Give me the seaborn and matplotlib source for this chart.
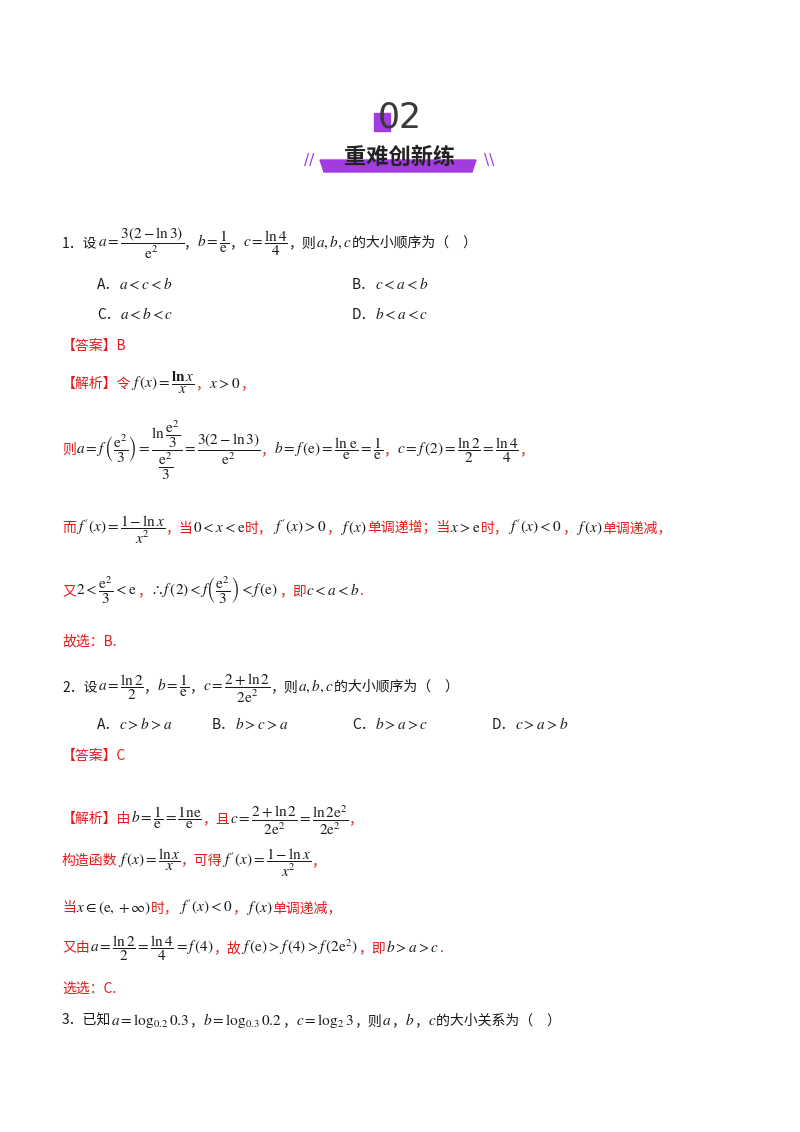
import matplotlib
matplotlib.use("Agg")
import matplotlib.pyplot as plt
import seaborn as sns
from matplotlib.patches import Rectangle, Polygon

sns.set_theme(style="white")
plt.rcParams['font.family'] = ['Noto Sans CJK SC', 'DejaVu Sans']
plt.rcParams['mathtext.fontset'] = 'stix'

R = '#e41a1a'
K = '#1a1a1a'
M = lambda s: '$' + s.replace(r"\frac{", r"\dfrac{") + '$'

# Each line: (x, y, [(text, colour), ...])
lines = [
    (62, 242, [("1．设", K), (M(r"a=\frac{3(2-\ln 3)}{\mathrm{e}^2}"), K), ("，", K), (M(r"b=\frac{1}{\mathrm{e}}"), K), ("，", K),
               (M(r"c=\frac{\ln 4}{4}"), K), ("，则", K), (M(r"a,b,c"), K), ("的大小顺序为（　）", K)]),
    (97, 284, [("A．", K), (M(r"a<c<b"), K)]),
    (352, 284, [("B．", K), (M(r"c<a<b"), K)]),
    (97, 314, [("C．", K), (M(r"a<b<c"), K)]),
    (352, 314, [("D．", K), (M(r"b<a<c"), K)]),
    (62, 345, [("【答案】B", R)]),
    (62, 383, [("【解析】令", R), (M(r"f\,(x)=\frac{\mathbf{ln}\,x}{x}"), K), ("，", R), (M(r"x>0"), K), ("，", R)]),
    (62, 449, [("则", R), (M(r"a=f\,\left(\frac{\mathrm{e}^2}{3}\right)=\frac{\ln\frac{\mathrm{e}^2}{3}}{\frac{\mathrm{e}^2}{3}}=\frac{3(2-\ln 3)}{\mathrm{e}^2}"), K), ("，", R),
               (M(r"b=f\,(\mathrm{e})=\frac{\ln\,\mathrm{e}}{\mathrm{e}}=\frac{1}{\mathrm{e}}"), K), ("，", R),
               (M(r"c=f\,(2)=\frac{\ln 2}{2}=\frac{\ln 4}{4}"), K), ("，", R)]),
    (62, 527, [("而", R), (M(r"f\,'(x)=\frac{1-\ln x}{x^2}"), K), ("，当", R), (M(r"0<x<\mathrm{e}"), K), ("时，", R),
               (M(r"f\,'(x)>0"), K), ("，", R), (M(r"f\,(x)"), K), ("单调递增；当", R), (M(r"x>\mathrm{e}"), K), ("时，", R),
               (M(r"f\,'(x)<0"), K), ("，", R), (M(r"f\,(x)"), K), ("单调递减，", R)]),
    (62, 590, [("又", R), (M(r"2<\frac{\mathrm{e}^2}{3}<\mathrm{e}"), K), ("，", R), (M(r"\therefore f\,(2)<f\left(\frac{\mathrm{e}^2}{3}\right)<f\,(\mathrm{e})"), K),
               ("，即", R), (M(r"c<a<b"), K), (".", R)]),
    (62, 640, [("故选：B.", R)]),
    (62, 686, [("2．设", K), (M(r"a=\frac{\ln 2}{2}"), K), ("，", K), (M(r"b=\frac{1}{\mathrm{e}}"), K), ("，", K),
               (M(r"c=\frac{2+\ln 2}{2\mathrm{e}^2}"), K), ("，则", K), (M(r"a,b,c"), K), ("的大小顺序为（　）", K)]),
    (97, 724, [("A．", K), (M(r"c>b>a"), K)]),
    (212, 724, [("B．", K), (M(r"b>c>a"), K)]),
    (352, 724, [("C．", K), (M(r"b>a>c"), K)]),
    (492, 724, [("D．", K), (M(r"c>a>b"), K)]),
    (62, 755, [("【答案】C", R)]),
    (62, 818, [("【解析】由", R), (M(r"b=\frac{1}{\mathrm{e}}=\frac{1\mathrm{ne}}{\mathrm{e}}"), K), ("，且", R),
               (M(r"c=\frac{2+\ln 2}{2\mathrm{e}^2}=\frac{\ln 2\mathrm{e}^2}{2\mathrm{e}^2}"), K), ("，", R)]),
    (62, 860, [("构造函数", R), (M(r"f\,(x)=\frac{\ln x}{x}"), K), ("，可得", R), (M(r"f\,'(x)=\frac{1-\ln x}{x^2}"), K), ("，", R)]),
    (62, 907, [("当", R), (M(r"x\in(\mathrm{e},+\infty)"), K), ("时，", R), (M(r"f\,'(x)<0"), K), ("，", R), (M(r"f\,(x)"), K), ("单调递减，", R)]),
    (62, 947, [("又由", R), (M(r"a=\frac{\ln 2}{2}=\frac{\ln 4}{4}=f\,(4)"), K), ("，故", R), (M(r"f\,(\mathrm{e})>f\,(4)>f\,(2\mathrm{e}^2)"), K),
               ("，即", R), (M(r"b>a>c"), K), (".", R)]),
    (62, 988, [("选选：C.", R)]),
    (62, 1020, [("3．已知", K), (M(r"a=\log_{0.2}0.3"), K), ("，", K), (M(r"b=\log_{0.3}0.2"), K), ("，", K), (M(r"c=\log_{2}3"), K),
                ("，则", K), (M(r"a"), K), ("，", K), (M(r"b"), K), ("，", K), (M(r"c"), K), ("的大小关系为（　）", K)]),
]

fig = plt.figure(figsize=(8, 11.32), dpi=100)
ax = fig.add_axes([0, 0, 1, 1])
ax.set_xlim(0, 800)
ax.set_ylim(1132, 0)
ax.axis('off')
fig.patch.set_facecolor('white')
renderer = fig.canvas.get_renderer()

# header
ax.add_patch(Rectangle((374, 113), 16, 18, color='#a23be0', zorder=1))
ax.text(400, 117, "02", fontsize=25, color='#3a3a3a', ha='center', va='center', family=['DejaVu Sans'], zorder=2)
ax.add_patch(Polygon([[320, 160], [476, 160], [472, 172], [324, 172]], color='#a23be0', zorder=1))
ax.text(400, 157, "重难创新练", fontsize=16, fontweight='bold', color='#222222', ha='center', va='center', zorder=2)
ax.text(309, 160, "//", fontsize=11, color='#a23be0', ha='center', va='center', family=['DejaVu Sans'])
ax.text(489, 160, "\\\\", fontsize=11, color='#a23be0', ha='center', va='center', family=['DejaVu Sans'])

for x, y, segs in lines:
    for s, c in segs:
        fs = 11 if s.startswith('$') else 10
        t = ax.text(x, y + 5, s, color=c, fontsize=fs, va='baseline', ha='left')
        bb = t.get_window_extent(renderer)
        x += bb.width

fig.savefig("out.png", dpi=100, facecolor='white')
